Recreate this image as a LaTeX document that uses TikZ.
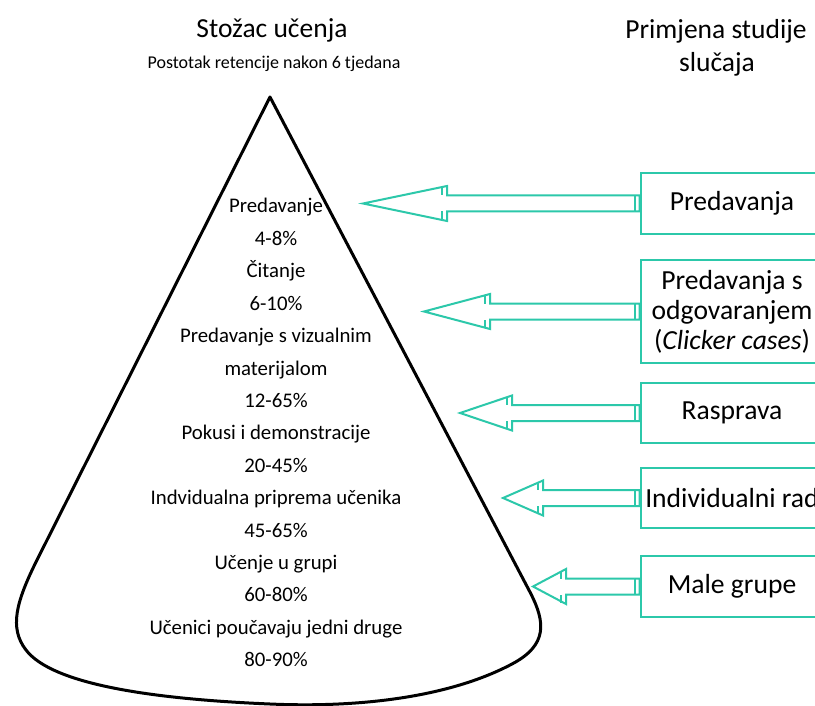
\documentclass[tikz,border=0pt]{standalone}
\usepackage{fontspec}
\setmainfont{Carlito}
\usetikzlibrary{calc}
\definecolor{teal1}{RGB}{44,200,170}
\tikzset{
  conetext/.style={anchor=base, inner sep=0pt, font=\fontsize{20.8}{24}\selectfont},
  boxnode/.style={draw=teal1, line width=2.6pt, minimum width=182pt, inner sep=0pt,
                  align=center, font=\fontsize{27.6}{30}\selectfont, fill=white},
  arrowline/.style={draw=teal1, line width=2pt, line join=miter, fill=white},
  titletext/.style={anchor=base, inner sep=0pt, font=\fontsize{27.5}{30}\selectfont},
}
\newcommand\blkarrow[3]{%
  \draw[arrowline] (#2) -- ($(#2)+(#3,-17.5)$) -- ($(#2)+(#3,-8)$)
     -- ($(#1.west)+(0,-8)$) -- ($(#1.west)+(0,8)$) -- ($(#2)+(#3,8)$)
     -- ($(#2)+(#3,17.5)$) -- cycle;
  \draw[arrowline] ($(#2)+(#3-5,-16)$) -- ($(#2)+(#3-5,-8)$);
  \draw[arrowline] ($(#2)+(#3-5,16)$) -- ($(#2)+(#3-5,8)$);
  \draw[arrowline] ($(#1.west)+(-5,-8)$) -- ($(#1.west)+(-5,8)$);
}
\begin{document}
\begin{tikzpicture}[x=1pt,y=-1pt]
\useasboundingbox (0,0) rectangle (815,706);
\clip (0,0) rectangle (815,706);
\fill[white] (0,0) rectangle (815,706);

% titles
\node[titletext] (title) at (272,38) {Stožac učenja};
\node[anchor=base, inner sep=0pt, font=\fontsize{18}{20}\selectfont] (subtitle) at (274,69) {Postotak retencije nakon 6 tjedana};
\node[titletext] (rtitle1) at (716,39) {Primjena studije};
\node[titletext] (rtitle2) at (717,72) {slučaja};

% cone
\draw[line width=3pt, line join=round] (270,97) -- (531,594)
  .. controls (545,622) and (548,645) .. (512,664)
  .. controls (450,697) and (360,708) .. (270,704)
  .. controls (150,699) and (52,684) .. (26,650)
  .. controls (9,628) and (16,602) .. (37,560) -- cycle;

% cone texts
\foreach \i/\t in {0/Predavanje, 1/4-8\%, 2/Čitanje, 3/6-10\%, 4/Predavanje s vizualnim,
  5/materijalom, 6/12-65\%, 7/Pokusi i demonstracije, 8/20-45\%,
  9/Indvidualna priprema učenika, 10/45-65\%, 11/Učenje u grupi, 12/60-80\%,
  13/Učenici poučavaju jedni druge, 14/80-90\%}
  \node[conetext] (c\i) at (276,{213+32.4*\i}) {\t};

% boxes
\node[boxnode, minimum height=61pt] (b1) at (732,203.5) {Predavanja};
\node[boxnode, minimum height=103pt] (b2) at (732,311.5) {Predavanja s\\odgovaranjem\\(\textit{Clicker cases})};
\node[boxnode, minimum height=60pt] (b3) at (732,413) {Rasprava};
\node[boxnode, minimum height=60pt] (b4) at (732,498) {Individualni rad};
\node[boxnode, minimum height=61pt] (b5) at (732,586.5) {Male grupe};

% arrow tips
\coordinate (t1) at (363,203.5);
\coordinate (t2) at (424,311.5);
\coordinate (t3) at (460,413);
\coordinate (t4) at (503,498);
\coordinate (t5) at (533,586.5);

\blkarrow{b1}{t1}{84}
\blkarrow{b2}{t2}{66}
\blkarrow{b3}{t3}{52}
\blkarrow{b4}{t4}{40}
\blkarrow{b5}{t5}{33}
\end{tikzpicture}
\end{document}
